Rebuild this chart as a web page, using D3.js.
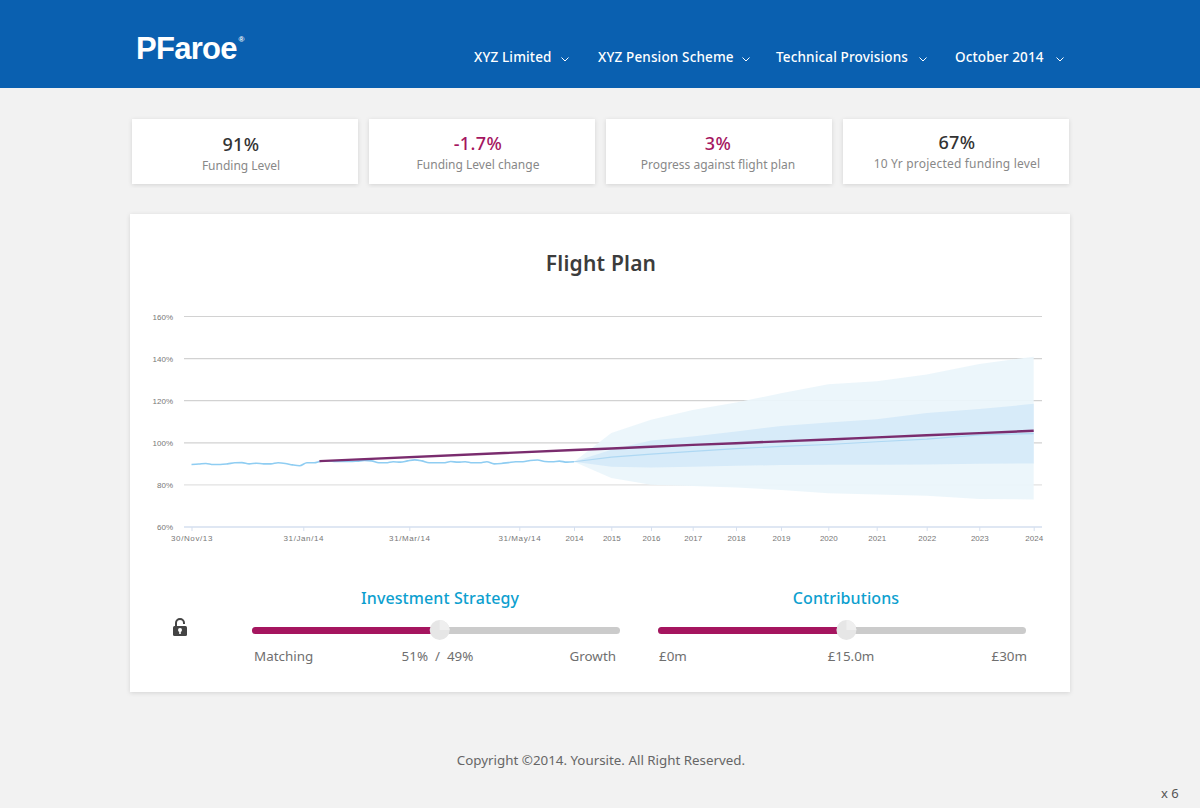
<!DOCTYPE html>
<html>
<head>
<meta charset="utf-8">
<title>Flight Plan</title>
<script src="https://cdnjs.cloudflare.com/ajax/libs/d3/7.8.5/d3.min.js"></script>
<style>
  html, body { margin: 0; padding: 0; background: #f2f2f2; overflow: hidden; }
  svg { display: block; }
  text { font-family: "Noto Sans", "Open Sans", sans-serif; }
  .axis text { font-family: "Liberation Sans", Arial, sans-serif; font-size: 8px; fill: #777; }
  .card { fill: #fff; filter: url(#shadow); }
</style>
</head>
<body>
<div class="root"></div>
<script>
const navLabels = ["XYZ Limited", "XYZ Pension Scheme", "Technical Provisions", "October 2014"];
const kpiValues = ["91%", "-1.7%", "3%", "67%"];
const kpiLabels = ["Funding Level", "Funding Level change", "Progress against flight plan", "10 Yr projected funding level"];

const yTicks = [60, 80, 100, 120, 140, 160];
const tickDates = ["2013-11-30", "2014-01-31", "2014-03-31", "2014-05-31", "2014-06-30", "2015-06-30", "2016-06-30", "2017-06-30",
  "2018-06-30", "2019-06-30", "2020-06-30", "2021-06-30", "2022-06-30", "2023-06-30", "2024-06-30"];
const tickLabels = ["30/Nov/13", "31/Jan/14", "31/Mar/14", "31/May/14", "2014", "2015", "2016", "2017",
  "2018", "2019", "2020", "2021", "2022", "2023", "2024"];

// funding level, one reading every 4 days from 30 Nov 13
const history = [89.7, 89.9, 90.2, 89.7, 89.7, 90.0, 90.5, 90.6, 90.0, 90.3, 90.0, 90.0, 90.5, 90.2, 89.5, 89.1, 90.5, 90.5,
  91.3, 91.4, 91.1, 91.1, 91.1, 91.3, 91.6, 91.4, 90.5, 90.5, 91.0, 90.8, 91.4, 91.9, 91.4, 90.5, 90.5, 90.5, 91.1, 90.8,
  91.0, 90.5, 90.5, 91.0, 90.0, 90.2, 90.6, 91.0, 91.0, 91.6, 91.8, 91.1, 91.0, 91.3, 90.8, 91.0];

// projection, yearly from the "2014" tick
const projDates = tickDates.slice(4);
const outerHigh = [91, 104.6, 110.9, 115.6, 119.1, 123.5, 127.8, 129.2, 132.4, 137.4, 140.9];
const innerHigh = [91, 96.7, 101.1, 103, 105.4, 108, 109.6, 111.2, 114.1, 116, 118.5];
const innerLow = [91, 88.6, 88.3, 88.6, 89.1, 89.4, 89.6, 89.6, 89.7, 90, 90.2];
const outerLow = [91, 83.3, 80.1, 79.5, 78.8, 77.6, 76, 75.4, 74.9, 73.3, 73.1];
const median = [91, 93.2, 94.6, 95.9, 97.2, 98.3, 99.2, 100.5, 101.7, 103.8, 104.4];

const planDates = ["2014-02-09"].concat(projDates);
const planValues = [91.3, 96.6, 97.3, 98.1, 99, 99.8, 100.7, 101.6, 102.6, 103.6, 104.6, 105.7];

const parseDay = d3.utcParse("%Y-%m-%d");

const svg = d3.select("div.root").append("svg").attr("width", 1200).attr("height", 808);

const shadow = svg.append("defs").append("filter").attr("id", "shadow")
  .attr("x", "-5%").attr("y", "-5%").attr("width", "110%").attr("height", "110%");
shadow.append("feDropShadow").attr("dx", 0).attr("dy", 1).attr("stdDeviation", 2)
  .attr("flood-color", "#000").attr("flood-opacity", 0.13);

// header
svg.append("rect").attr("width", 1200).attr("height", 88).attr("fill", "#0a60b0");
svg.append("text").attr("x", 136).attr("y", 59).attr("fill", "#fff")
  .style("font-family", "'Liberation Sans', Arial, sans-serif").style("font-weight", 700)
  .style("font-size", "31px").style("letter-spacing", "-0.7px").text("PFaroe");
svg.append("text").attr("x", 238.5).attr("y", 42).attr("fill", "#fff")
  .style("font-family", "'Liberation Sans', Arial, sans-serif").style("font-weight", 700)
  .style("font-size", "8px").text("®");

const navX = [474, 598, 776, 955];
const navCaret = [565, 746, 923, 1060];
navLabels.forEach((label, i) => {
  svg.append("text").attr("x", navX[i]).attr("y", 62).attr("fill", "#fff")
    .style("font-size", "13.5px").style("font-weight", 500).style("letter-spacing", "0.15px").text(label);
  svg.append("path").attr("d", `M${navCaret[i] - 3.5},57.5l3.5,3.5l3.5,-3.5`)
    .attr("fill", "none").attr("stroke", "#fff").attr("stroke-width", 1);
});

// kpi cards
const kpiX = [132, 369, 606, 843];
const kpiCenter = [241, 478, 718, 957];
const kpiColors = ["#333", "#a5155f", "#a5155f", "#333"];
const kpiTop = [151, 150, 150, 149];
kpiValues.forEach((v, i) => {
  svg.append("rect").attr("class", "card").attr("x", kpiX[i]).attr("y", 119).attr("width", 226).attr("height", 65);
  svg.append("text").attr("x", kpiCenter[i]).attr("y", kpiTop[i]).attr("text-anchor", "middle")
    .attr("fill", kpiColors[i]).style("font-size", "18px").style("font-weight", 500).style("letter-spacing", "0.4px").text(v);
  svg.append("text").attr("x", kpiCenter[i]).attr("y", kpiTop[i] + 19).attr("text-anchor", "middle")
    .attr("fill", "#888").style("font-size", "12px").style("letter-spacing", i === 3 ? "0.2px" : "0").text(kpiLabels[i]);
});

// main panel
svg.append("rect").attr("class", "card").attr("x", 130).attr("y", 214).attr("width", 940).attr("height", 478);
svg.append("text").attr("x", 601).attr("y", 271).attr("text-anchor", "middle").attr("fill", "#3c3c3c")
  .style("font-size", "21px").style("font-weight", 600).style("letter-spacing", "0.2px").text("Flight Plan");

// time axis is stretched by hand: months before the valuation date, widening years after it
const x = d3.scaleUtc()
  .domain(tickDates.map(parseDay))
  .range([191.5, 303.3, 409.3, 519.3, 574, 611.3, 651, 692.7, 736, 781, 828.3, 876.7, 926.7, 979.3, 1033.7]);
const y = d3.scaleLinear().domain([60, 160]).range([527, 316.5]);

const chart = svg.append("g");

chart.selectAll("line.grid").data(yTicks.slice(1)).enter().append("line")
  .attr("class", "grid")
  .attr("x1", 184).attr("x2", 1042)
  .attr("y1", d => y(d)).attr("y2", d => y(d))
  .attr("stroke", d => (d === 80 ? "#e2e2e2" : "#d2d2d2")).attr("stroke-width", 1.2);

const projPoints = projDates.map(parseDay);
const band = d3.area().x(d => x(d.date)).y0(d => y(d.low)).y1(d => y(d.high));
const bandRows = (low, high) => projPoints.map((date, i) => ({ date, low: low[i], high: high[i] }));

chart.append("path").datum(bandRows(outerLow, outerHigh)).attr("d", band).attr("fill", "#ebf5fb").attr("fill-opacity", 0.93);
chart.append("path").datum(bandRows(innerLow, innerHigh)).attr("d", band).attr("fill", "#d7ebf9");

const line = d3.line().x(d => x(d[0])).y(d => y(d[1]));
const historyStart = parseDay(tickDates[0]);
const historyRows = history.map((v, i) => [d3.utcDay.offset(historyStart, i * 4), v]);

chart.append("path").datum(historyRows).attr("d", line.curve(d3.curveMonotoneX))
  .attr("fill", "none").attr("stroke", "#8fcdf2").attr("stroke-width", 1.6);
line.curve(d3.curveLinear);
chart.append("path").datum(projPoints.map((d, i) => [d, median[i]])).attr("d", line)
  .attr("fill", "none").attr("stroke", "#aed8f3").attr("stroke-width", 1.2);
chart.append("path").datum(planDates.map((d, i) => [parseDay(d), planValues[i]])).attr("d", line)
  .attr("fill", "none").attr("stroke", "#7a2c6e").attr("stroke-width", 2.4);

const xAxis = d3.axisBottom(x)
  .tickValues(tickDates.map(parseDay))
  .tickFormat((d, i) => tickLabels[i])
  .tickSize(4).tickSizeOuter(0);
const xAxisG = chart.append("g").attr("class", "axis").attr("transform", "translate(0,527)").call(xAxis);
xAxisG.select(".domain").remove();
xAxisG.append("line").attr("x1", 184).attr("x2", 1042).attr("stroke", "#d5dfef").attr("stroke-width", 1.4);
xAxisG.selectAll(".tick line").attr("stroke", "#d5dfef");
xAxisG.selectAll(".tick text").attr("y", 8)
  .style("letter-spacing", (d, i) => (i < 4 ? "0.6px" : "0"));

const yAxis = d3.axisLeft(y).tickValues(yTicks).tickFormat(d => d + "%").tickSize(0).tickPadding(10);
const yAxisG = chart.append("g").attr("class", "axis").attr("transform", "translate(183,0)").call(yAxis);
yAxisG.select(".domain").remove();

// sliders
const purple = "#a5155f";
function slider(title, titleX, x0, x1, value, labels, labelX, labelAnchor) {
  svg.append("text").attr("x", titleX).attr("y", 604).attr("text-anchor", "middle").attr("fill", "#0d9fcf")
    .style("font-size", "16px").style("font-weight", 500).style("letter-spacing", "0.1px").text(title);
  const sx = d3.scaleLinear().domain([0, 1]).range([x0, x1]);
  svg.append("rect").attr("x", x0).attr("y", 627).attr("width", x1 - x0).attr("height", 7).attr("rx", 3.5).attr("fill", "#cbcbcb");
  svg.append("rect").attr("x", x0).attr("y", 627).attr("width", sx(value) - x0).attr("height", 7).attr("rx", 3.5).attr("fill", purple);
  svg.append("circle").attr("cx", sx(value)).attr("cy", 630).attr("r", 10).attr("fill", "#e6e6e6");
  svg.append("path").attr("d", `M${sx(value)},630V620A10,10 0 0 1 ${sx(value) + 10},630Z`).attr("fill", "#efefef");
  labels.forEach((t, i) => {
    svg.append("text").attr("x", labelX[i]).attr("y", 661).attr("text-anchor", labelAnchor[i]).attr("fill", "#6f6f6f")
      .style("font-size", "13.4px").text(t);
  });
}
slider("Investment Strategy", 440, 252, 620, 0.51, ["Matching", "51%\u00a0\u00a0/\u00a0\u00a049%", "Growth"], [254, 437.5, 616], ["start", "middle", "end"]);
slider("Contributions", 846, 658, 1026, 0.512, ["£0m", "£15.0m", "£30m"], [659, 851, 1027], ["start", "middle", "end"]);

// padlock
const lock = svg.append("g").attr("transform", "translate(173,618)").attr("fill", "#444");
lock.append("rect").attr("x", 0).attr("y", 8).attr("width", 14).attr("height", 10).attr("rx", 1.5);
lock.append("path").attr("d", "M3,8V5a4,4 0 0 1 8,0v1").attr("fill", "none").attr("stroke", "#444").attr("stroke-width", 2);
lock.append("circle").attr("cx", 7).attr("cy", 12).attr("r", 2).attr("fill", "#fff");
lock.append("rect").attr("x", 6.2).attr("y", 12).attr("width", 1.6).attr("height", 4).attr("fill", "#fff");

// footer
svg.append("text").attr("x", 601).attr("y", 765).attr("text-anchor", "middle").attr("fill", "#666")
  .style("font-size", "13.35px").text("Copyright ©2014. Yoursite. All Right Reserved.");
svg.append("text").attr("x", 1161).attr("y", 798).attr("fill", "#555").style("font-size", "13px").text("x 6");
</script>
</body>
</html>
